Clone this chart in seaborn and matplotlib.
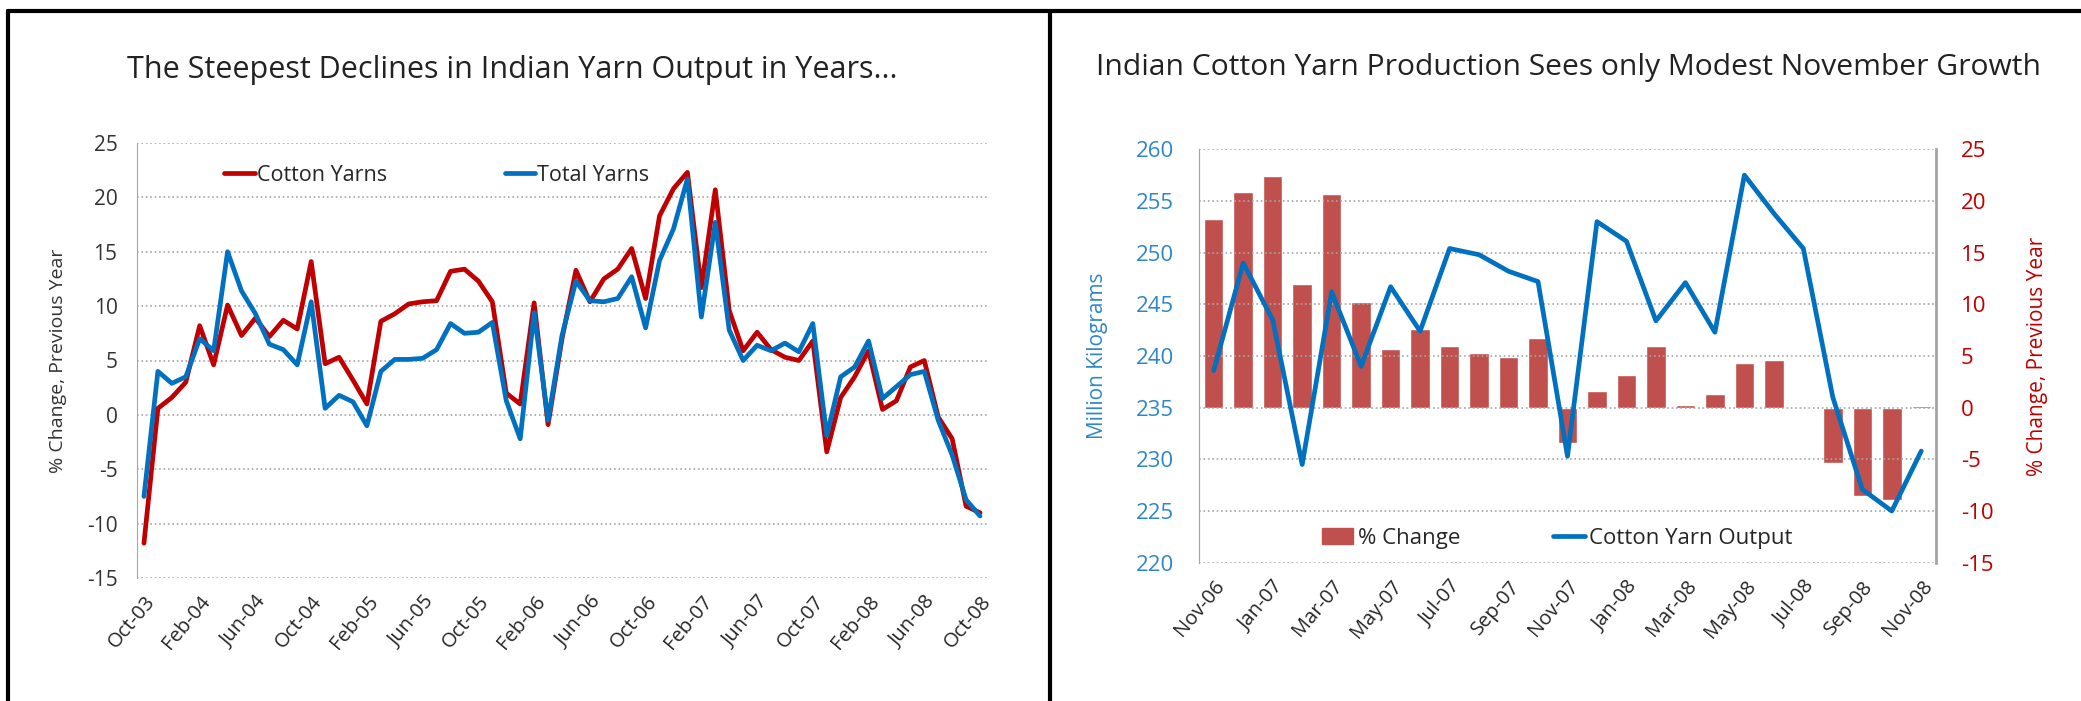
import matplotlib
matplotlib.use("Agg")
import matplotlib.pyplot as plt
from matplotlib.lines import Line2D
from matplotlib.patches import Patch
import numpy as np
import pandas as pd
import seaborn as sns

# left chart: monthly % change, Oct-03 .. Oct-08
cotton_yarns = [-11.8, 0.6, 1.6, 3.0, 8.2, 4.6, 10.1, 7.3, 8.9, 7.2,
                8.7, 7.9, 14.1, 4.7, 5.3, 3.2, 1.0, 8.6, 9.3, 10.2,
                10.4, 10.5, 13.2, 13.4, 12.3, 10.4, 2.0, 1.0, 10.3, -0.9,
                7.0, 13.3, 10.4, 12.5, 13.4, 15.3, 10.7, 18.3, 20.8, 22.3,
                11.7, 20.7, 9.6, 5.9, 7.6, 6.0, 5.3, 5.0, 6.8, -3.4,
                1.6, 3.5, 5.9, 0.5, 1.3, 4.4, 5.0, -0.2, -2.2, -8.4, -9.0]
total_yarns = [-7.5, 4.0, 2.9, 3.5, 7.0, 5.9, 15.0, 11.4, 9.3, 6.5,
               6.0, 4.6, 10.4, 0.6, 1.8, 1.2, -1.0, 4.0, 5.1, 5.1,
               5.2, 6.0, 8.4, 7.5, 7.6, 8.5, 1.3, -2.2, 9.4, -0.5,
               7.3, 12.3, 10.5, 10.4, 10.7, 12.7, 8.0, 14.2, 17.1, 21.7,
               9.0, 17.7, 7.8, 5.0, 6.4, 5.9, 6.6, 5.8, 8.4, -1.9,
               3.5, 4.4, 6.8, 1.5, 2.6, 3.7, 4.0, -0.5, -3.7, -7.8, -9.3]
left_ticks = ["Oct-03", "Feb-04", "Jun-04", "Oct-04", "Feb-05", "Jun-05", "Oct-05",
              "Feb-06", "Jun-06", "Oct-06", "Feb-07", "Jun-07", "Oct-07", "Feb-08",
              "Jun-08", "Oct-08"]

# right chart: Nov-06 .. Nov-08
months_r = ["Nov-06", "Dec-06", "Jan-07", "Feb-07", "Mar-07", "Apr-07", "May-07",
            "Jun-07", "Jul-07", "Aug-07", "Sep-07", "Oct-07", "Nov-07", "Dec-07",
            "Jan-08", "Feb-08", "Mar-08", "Apr-08", "May-08", "Jun-08", "Jul-08",
            "Aug-08", "Sep-08", "Oct-08", "Nov-08"]
pct_change = [18.3, 20.9, 22.4, 12.0, 20.7, 10.2, 5.7, 7.6, 6.0, 5.3, 4.9, 6.7,
              -3.4, 1.6, 3.2, 6.0, 0.3, 1.3, 4.3, 4.6, -0.1, -5.4, -8.5, -8.9, 0.2]
yarn_output = [238.6, 249.0, 243.5, 229.5, 246.2, 239.0, 246.7, 242.4, 250.4,
               249.8, 248.2, 247.2, 230.3, 253.0, 251.1, 243.4, 247.1, 242.3,
               257.5, 253.8, 250.4, 236.0, 227.1, 225.0, 230.8]

RED = "#C00000"
BLUE = "#0070C0"
BAR = "#C0504D"
AXBLUE = "#2E86C8"
GRID = "#A6A6A6"

sns.set_style("white")
plt.rcParams["font.family"] = ["Open Sans", "DejaVu Sans"]
plt.rcParams["axes.unicode_minus"] = False

fig = plt.figure(figsize=(20.81, 7.01), dpi=100)

# panel frames
fig.add_artist(Line2D([8 / 2081, 2081 / 2081], [1 - 11 / 701] * 2, color="black", lw=3))
fig.add_artist(Line2D([8 / 2081] * 2, [0, 1 - 11 / 701], color="black", lw=3))
fig.add_artist(Line2D([1050 / 2081] * 2, [0, 1 - 11 / 701], color="black", lw=3))

# ---- left chart
ax = fig.add_axes([137 / 2081, 1 - 578 / 701, 850 / 2081, 435 / 701])
df = pd.DataFrame({"m": np.arange(len(cotton_yarns)),
                   "Cotton Yarns": cotton_yarns, "Total Yarns": total_yarns})
sns.lineplot(data=df, x="m", y="Cotton Yarns", ax=ax, color=RED, lw=3.4, label="Cotton Yarns")
sns.lineplot(data=df, x="m", y="Total Yarns", ax=ax, color=BLUE, lw=3.4, label="Total Yarns")
ax.set_xlim(-0.5, 60.5)
ax.set_ylim(-15, 25)
ax.set_yticks(range(-15, 26, 5))
ax.set_xticks(range(0, 61, 4))
ax.set_xticklabels(left_ticks, rotation=50, ha="right", rotation_mode="anchor")
ax.yaxis.grid(True, color=GRID, ls=":", lw=1.2)
for s in ["top", "right"]:
    ax.spines[s].set_visible(False)
ax.spines["left"].set_color(GRID)
ax.spines["bottom"].set_visible(False)
ax.tick_params(axis="y", labelsize=15, colors="#333333", length=0, pad=14)
ax.tick_params(axis="x", labelsize=14.5, length=0, pad=10)
ax.set_xlabel("")
ax.set_ylabel("% Change, Previous Year", fontsize=14, color="#333333", labelpad=14)
ax.legend(loc="upper left", bbox_to_anchor=(0.08, 0.995), ncol=2, frameon=False,
          fontsize=15.5, handlelength=1.4, handletextpad=0.1, columnspacing=5.5)
fig.text(512 / 2081, 1 - 70 / 701, "The Steepest Declines in Indian Yarn Output in Years...",
         ha="center", va="center", fontsize=22, color="#222222")

# ---- right chart
axr = fig.add_axes([1199 / 2081, 1 - 562.7 / 701, 737 / 2081, 413.4 / 701])
axp = axr.twinx()
sns.barplot(x=months_r, y=pct_change, ax=axp, color=BAR, width=0.66, saturation=1)
sns.lineplot(x=np.arange(len(months_r)), y=yarn_output, ax=axr, color=BLUE, lw=3.4)
axr.set_zorder(axp.get_zorder() + 1)
axr.patch.set_visible(False)
axr.set_xlim(-0.5, 24.5)
axr.set_ylim(220, 260)
axp.set_ylim(-15, 25)
axr.set_yticks(range(220, 261, 5))
axp.set_yticks(range(-15, 26, 5))
axr.set_xticks(range(0, 25, 2))
axr.set_xticklabels(months_r[::2], rotation=50, ha="right", rotation_mode="anchor")
axr.yaxis.grid(True, color=GRID, ls=":", lw=1.2)
for a in (axr, axp):
    a.spines["top"].set_visible(False)
    a.spines["bottom"].set_visible(False)
    a.spines["left"].set_color(GRID)
    a.spines["right"].set_color(GRID)
    a.set_xlabel("")
axp.spines["right"].set_linewidth(2)
axr.tick_params(axis="y", labelsize=16, colors=AXBLUE, length=0, pad=18)
axp.tick_params(axis="y", labelsize=16, colors=RED, length=0, pad=18)
axr.tick_params(axis="x", labelsize=14.5, length=0, pad=10)
axr.set_ylabel("Million Kilograms", fontsize=15, color=AXBLUE, labelpad=20)
axp.set_ylabel("% Change, Previous Year", fontsize=15, color=RED, labelpad=24)
handles = [Patch(color=BAR), Line2D([], [], color=BLUE, lw=3.4)]
axr.legend(handles, ["% Change", "Cotton Yarn Output"], loc="lower left",
           bbox_to_anchor=(0.14, -0.015), ncol=2, frameon=False, fontsize=16,
           handlelength=1.4, handletextpad=0.2, columnspacing=4.2)
fig.text(1568 / 2081, 1 - 68 / 701, "Indian Cotton Yarn Production Sees only Modest November Growth",
         ha="center", va="center", fontsize=21.6, color="#222222")

fig.savefig("out.png", dpi=100)
